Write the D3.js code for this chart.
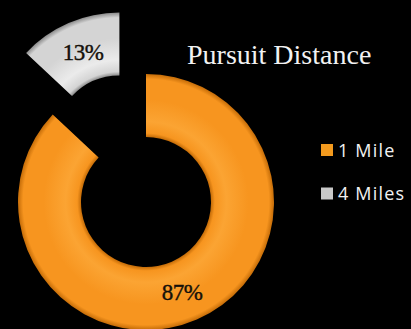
<!DOCTYPE html>
<html><head><meta charset="utf-8">
<script src="https://cdn.jsdelivr.net/npm/d3@7"></script>
<style>html,body{margin:0;padding:0;background:#000;}svg{display:block;}</style>
</head><body>
<script>
const categories = ["1 Mile", "4 Miles"];
const values = [87, 13];
const labels = ["87%", "13%"];
const title = "Pursuit Distance";

const W = 411, H = 329;
const cx = 146, cy = 202, rOuter = 128, rInner = 65, explode = 67;
const svg = d3.select("body").append("svg").attr("width", W).attr("height", H)
  .style("background", "#000");
svg.append("rect").attr("width", W).attr("height", H).attr("fill", "#000");

const defs = svg.append("defs");
const palettes = [
  {edge: "#c46c08", mid: "#f7951f", hi: "#fba433"},
  {edge: "#8a8a8a", mid: "#d4d4d4", hi: "#ebebeb"}
];
palettes.forEach((p, i) => {
  const g = defs.append("radialGradient").attr("id", "g" + i)
    .attr("gradientUnits", "userSpaceOnUse").attr("cx", 0).attr("cy", 0).attr("r", rOuter);
  const s0 = rInner / rOuter;
  [[0, p.edge], [s0, p.edge], [s0 + 0.03, p.mid], [s0 + 0.12, p.hi], [0.8, p.mid], [0.96, p.mid], [1, p.edge]]
    .forEach(([o, c]) => g.append("stop").attr("offset", o).attr("stop-color", c));
});

const pie = d3.pie().sort(null).value(d => d)(values);
const arc = d3.arc().innerRadius(rInner).outerRadius(rOuter);

const g = svg.append("g").attr("transform", `translate(${cx},${cy})`);
pie.forEach((d, i) => {
  const mid = (d.startAngle + d.endAngle) / 2;
  const off = i === 1 ? explode : 0;
  const dx = Math.sin(mid) * off, dy = -Math.cos(mid) * off;
  const sg = g.append("g").attr("transform", `translate(${dx},${dy})`);
  sg.append("path").attr("d", arc(d)).attr("fill", `url(#g${i})`);
});

// labels
const labelPos = [[182, 292], [83, 52]];
labels.forEach((t, i) => {
  svg.append("text").attr("x", labelPos[i][0]).attr("y", labelPos[i][1])
    .attr("text-anchor", "middle").attr("dominant-baseline", "central")
    .attr("font-family", "Liberation Serif, serif").attr("font-size", 23)
    .attr("letter-spacing", -0.5)
    .attr("fill", "#15100a").attr("stroke", "#15100a").attr("stroke-width", 0.4)
    .text(t);
});

svg.append("text").attr("x", 187).attr("y", 64)
  .attr("font-family", "Liberation Serif, serif").attr("font-size", 28)
  .attr("fill", "#f2f2f2").text(title);

const legColors = ["#f39a1e", "#c8c8c8"];
categories.forEach((c, i) => {
  const y = 144 + i * 43.5;
  svg.append("rect").attr("x", 321).attr("y", y).attr("width", 12).attr("height", 12)
    .attr("fill", legColors[i]);
  svg.append("text").attr("x", 338).attr("y", y + 12.5)
    .attr("font-family", "Open Sans, sans-serif").attr("font-size", 18)
    .attr("letter-spacing", 1.2)
    .attr("fill", "#f2f2f2").text(c);
});
</script>
</body></html>
